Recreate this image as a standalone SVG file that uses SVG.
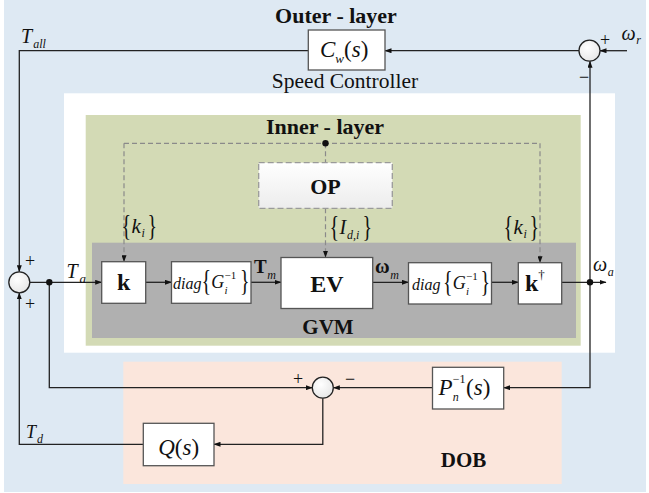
<svg xmlns="http://www.w3.org/2000/svg" width="649" height="493" viewBox="0 0 649 493">
<defs>
<marker id="arr" markerWidth="7" markerHeight="5" refX="6.5" refY="2.5" orient="auto" markerUnits="userSpaceOnUse">
<path d="M0,0 L7,2.5 L0,5 z" fill="#111"/>
</marker>
<linearGradient id="opg" x1="0" y1="0" x2="0" y2="1">
<stop offset="0" stop-color="#ffffff"/>
<stop offset="1" stop-color="#ececec"/>
</linearGradient>
<radialGradient id="sumg" cx="0.4" cy="0.35" r="0.7">
<stop offset="0" stop-color="#ffffff"/>
<stop offset="1" stop-color="#e6e6e6"/>
</radialGradient>
<style>
text{font-family:"Liberation Serif","Times New Roman",serif;fill:#111}
.b{font-weight:bold}
.i{font-style:italic}
.br{font-size:20px}
.box{fill:#fff;stroke:#555;stroke-width:1.3}
.sum{fill:url(#sumg);stroke:#222;stroke-width:1.3}
.lna{fill:none;stroke:#222;stroke-width:1.3;marker-end:url(#arr)}
.dash{fill:none;stroke:#8a8a8a;stroke-width:1.2;stroke-dasharray:5,3}
.dasha{fill:none;stroke:#8a8a8a;stroke-width:1.2;stroke-dasharray:5,3;marker-end:url(#arr)}
.sg{font-size:18px}
</style>
</defs>

<!-- background regions -->
<rect x="4" y="0" width="642" height="492" fill="#dee9f3"/>
<rect x="64" y="93.3" width="551" height="259.4" fill="#ffffff"/>
<rect x="85.7" y="115" width="495" height="230.7" fill="#d3dab5"/>
<rect x="92" y="242.7" width="484" height="95.3" fill="#b0b0b0"/>
<rect x="123.3" y="361.7" width="438.4" height="122.3" fill="#fbe6dc"/>

<text class="b" x="336" y="22.5" font-size="22" text-anchor="middle">Outer - layer</text>
<text x="345" y="88" font-size="21.5" text-anchor="middle">Speed Controller</text>
<text class="b" x="325" y="134" font-size="22" text-anchor="middle">Inner - layer</text>
<text class="b" x="328" y="333.5" font-size="21" text-anchor="middle">GVM</text>
<text class="b" x="463.5" y="467" font-size="21" text-anchor="middle">DOB</text>

<!-- connectors -->
<g id="connectors">
<path class="lna" d="M627,50.7 H600"/>
<path class="lna" d="M579,50.7 H385"/>
<path class="lna" d="M308.3,50.7 H19.3 V271.8"/>
<path class="lna" d="M590,282.3 V61.2"/>
<path class="lna" d="M590,282.3 V387.7 H503.7"/>
<path class="lna" d="M432.5,387.7 H333.3"/>
<path class="lna" d="M49.3,282.3 V387.7 H312.3"/>
<path class="lna" d="M322.8,398.2 V444.3 H214"/>
<path class="lna" d="M143.3,444.3 H19.3 V292.8"/>
<path class="lna" d="M29.8,282.3 H101.7"/>
<path class="lna" d="M145.7,282.3 H171.5"/>
<path class="lna" d="M251,282.3 H281"/>
<path class="lna" d="M372.7,282.3 H408.5"/>
<path class="lna" d="M491.5,282.3 H518.3"/>
<path class="lna" d="M561.7,282.3 H606"/>
<path class="dash" d="M124,143.3 H540"/>
<path class="dasha" d="M124,143.3 V261.7"/>
<path class="dasha" d="M540,143.3 V262.7"/>
<path class="dash" d="M325.5,143.3 V162.7"/>
<path class="dasha" d="M325.5,208.3 V257.3"/>
<circle cx="49.3" cy="282.3" r="3.2" fill="#111"/>
<circle cx="590" cy="282.3" r="3.2" fill="#111"/>
<circle cx="325.5" cy="143.3" r="3.2" fill="#111"/>
</g>

<!-- connector labels -->
<g id="labels">
<text class="i" x="21" y="43" font-size="20">T<tspan font-size="12" dx="1" dy="5">all</tspan></text>
<text class="i" x="26" y="437.5" font-size="18">T<tspan font-size="12" dx="1" dy="5.5">d</tspan></text>
<text class="i" x="66.5" y="278" font-size="20">T<tspan font-size="13" dx="1.9" dy="5">a</tspan></text>
<text class="b" x="254" y="272.5" font-size="19">T<tspan class="i" font-weight="normal" font-size="12" dx="0.5" dy="6.5">m</tspan></text>
<text class="b" x="375" y="272.5" font-size="20">ω<tspan class="i" font-weight="normal" font-size="12" dx="0.5" dy="6.5">m</tspan></text>
<text class="i" x="593" y="271" font-size="20">ω<tspan font-size="12" dx="0.5" dy="5">a</tspan></text>
<text class="i" x="621.5" y="40" font-size="20">ω<tspan font-size="12" dx="0.5" dy="4">r</tspan></text>

<!-- {k_i} left -->
<text class="br" transform="translate(121.5,235) scale(1,1.45)">{</text>
<text class="i" x="131.5" y="233" font-size="21">k</text>
<text class="i" x="141.5" y="237" font-size="12">i</text>
<text class="br" transform="translate(147.5,235) scale(1,1.45)">}</text>
<!-- {k_i} right -->
<text class="br" transform="translate(503.5,236) scale(1,1.45)">{</text>
<text class="i" x="513.5" y="234" font-size="21">k</text>
<text class="i" x="523.5" y="238" font-size="12">i</text>
<text class="br" transform="translate(529.5,236) scale(1,1.45)">}</text>
<!-- {I_d,i} -->
<text class="br" transform="translate(329.5,236) scale(1,1.45)">{</text>
<text class="i" x="339.5" y="234" font-size="20">I</text>
<text class="i" x="347" y="239" font-size="12">d,i</text>
<text class="br" transform="translate(362.5,236) scale(1,1.45)">}</text>

<text class="sg" x="605" y="46" text-anchor="middle">+</text>
<text class="sg" x="584" y="83" text-anchor="middle">−</text>
<text class="sg" x="30" y="267" text-anchor="middle">+</text>
<text class="sg" x="30" y="310" text-anchor="middle">+</text>
<text class="sg" x="298" y="385" text-anchor="middle">+</text>
<text class="sg" x="350" y="385" text-anchor="middle">−</text>
</g>

<!-- nodes -->
<g id="sum-top"><circle class="sum" cx="589.5" cy="50.7" r="10.5"/></g>
<g id="sum-left"><circle class="sum" cx="19.3" cy="282.3" r="10.5"/></g>
<g id="sum-dob"><circle class="sum" cx="322.8" cy="387.7" r="10.5"/></g>

<g id="Cw">
<rect class="box" x="308.3" y="30" width="76.7" height="40"/>
<text x="320" y="57" font-size="23"><tspan class="i">C</tspan><tspan class="i" font-size="13" dy="5.5">w</tspan><tspan dy="-5.5">(</tspan><tspan class="i">s</tspan>)</text>
</g>

<g id="OP">
<rect x="258.7" y="162.7" width="133.6" height="45.6" fill="url(#opg)" stroke="#9a9a9a" stroke-width="1.3" stroke-dasharray="6,3"/>
<text class="b" x="325.5" y="194" font-size="22" text-anchor="middle">OP</text>
</g>

<g id="k">
<rect class="box" x="101.7" y="261.7" width="44" height="41.6"/>
<text class="b" x="123.7" y="290" font-size="24" text-anchor="middle">k</text>
</g>

<g id="diag1">
<rect class="box" x="171.5" y="261.7" width="79.5" height="41.6"/>
<text class="i" x="173" y="289" font-size="16">diag</text>
<text class="br" transform="translate(201.5,290) scale(1,1.45)">{</text>
<text class="i" x="211.2" y="288" font-size="18">G</text>
<text x="224.5" y="279" font-size="11">−1</text>
<text class="i" x="224.5" y="294" font-size="11">i</text>
<text class="br" transform="translate(240,290) scale(1,1.45)">}</text>
</g>

<g id="EV">
<rect class="box" x="281" y="257.5" width="91.7" height="51"/>
<text class="b" x="326.8" y="292" font-size="24" text-anchor="middle">EV</text>
</g>

<g id="diag2">
<rect class="box" x="408.5" y="262.7" width="83" height="41.3"/>
<text class="i" x="412" y="289.5" font-size="16">diag</text>
<text class="br" transform="translate(443,291) scale(1,1.45)">{</text>
<text class="i" x="452.8" y="289" font-size="18">G</text>
<text x="466" y="280" font-size="11">−1</text>
<text class="i" x="466" y="295" font-size="11">i</text>
<text class="br" transform="translate(480.5,291) scale(1,1.45)">}</text>
</g>

<g id="kdag">
<rect class="box" x="518.3" y="262.7" width="43.4" height="41.3"/>
<text class="b" x="525" y="291" font-size="24">k<tspan font-weight="normal" font-size="13" dy="-12">†</tspan></text>
</g>

<g id="Pn">
<rect class="box" x="432.5" y="367.3" width="71.2" height="41.7"/>
<text class="i" x="438.5" y="395" font-size="23">P</text>
<text x="452.8" y="383" font-size="12">−1</text>
<text class="i" x="452.8" y="400.5" font-size="12">n</text>
<text x="466" y="395" font-size="23">(<tspan class="i">s</tspan>)</text>
</g>

<g id="Q">
<rect class="box" x="143.3" y="423.3" width="70.7" height="42.4"/>
<text x="178.6" y="455" font-size="23" text-anchor="middle"><tspan class="i">Q</tspan>(<tspan class="i">s</tspan>)</text>
</g>
</svg>
